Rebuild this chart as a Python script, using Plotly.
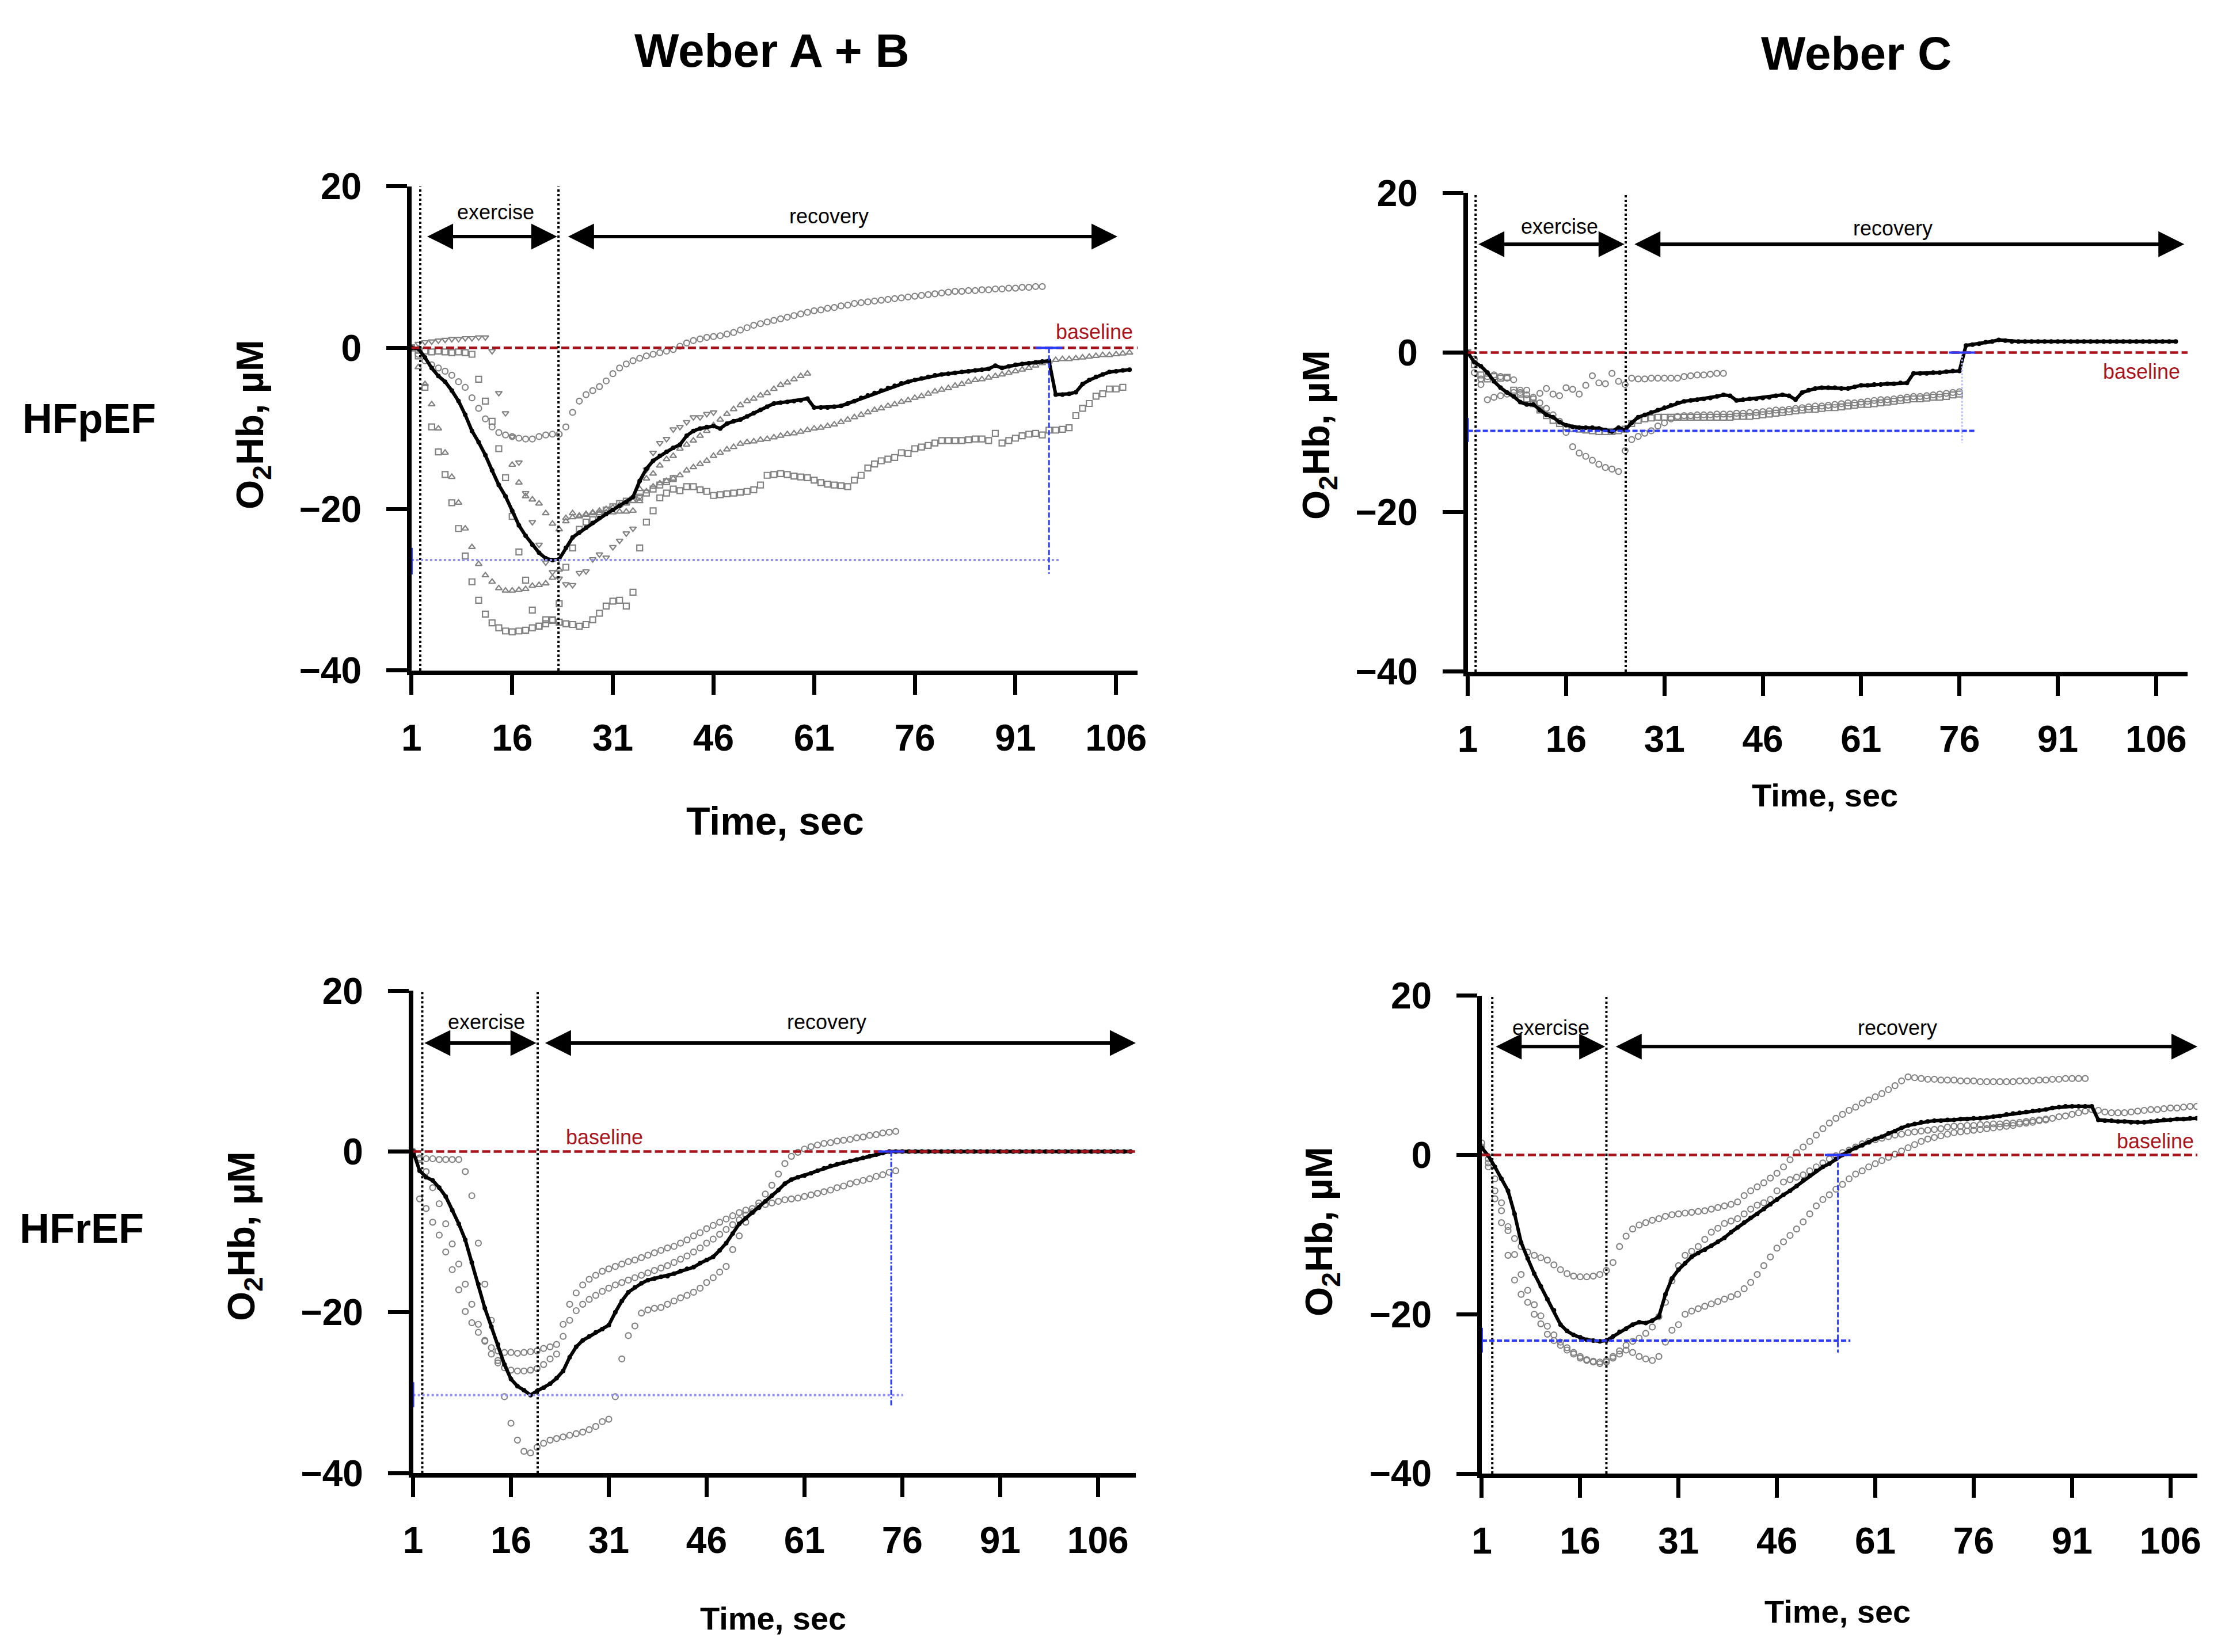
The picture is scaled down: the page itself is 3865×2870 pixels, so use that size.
import plotly.graph_objects as go

FONT = "Liberation Sans"
GRAY = "#828282"
RED = "#a8141c"
BLUE = "#2b3cff"
LIGHTBLUE = "#9090ff"
LAVENDER = "#b8b8ff"

x_ticks = [1, 16, 31, 46, 61, 76, 91, 106]
y_ticks = [-40, -20, 0, 20]

# ---------- HFpEF, Weber A + B ----------
tl_mean = [0, -0.1, -1.2, -2.5, -3.5, -4.2, -5.3, -6.6, -8.3, -10.3,
           -11.7, -13.3, -15.2, -17.0, -18.4, -20.2, -22.0, -23.3, -24.4, -25.4,
           -26.1, -26.3, -26.2, -24.8, -23.5, -22.9, -22.3, -21.7, -21.1, -20.6,
           -20.1, -19.6, -19.1, -18.5, -16.5, -15.0, -14.0, -13.4, -12.9, -12.4,
           -12.0, -10.9, -10.3, -10.0, -9.8, -9.7, -10.0, -9.4, -9.1, -8.9,
           -8.5, -8.1, -7.7, -7.3, -6.9, -6.8, -6.7, -6.6, -6.5, -6.3,
           -7.4, -7.4, -7.4, -7.3, -7.2, -6.9, -6.6, -6.2, -5.9, -5.6,
           -5.3, -5.0, -4.7, -4.4, -4.2, -4.0, -3.8, -3.6, -3.4, -3.3,
           -3.2, -3.1, -3.0, -2.9, -2.8, -2.7, -2.6, -2.2, -2.5, -2.3,
           -2.1, -2.0, -1.9, -1.8, -1.7, -1.6, -5.8, -5.8, -5.7, -5.5,
           -4.5, -4.0, -3.6, -3.3, -3.0, -2.9, -2.8, -2.7]
tl_circ = [0, -0.8, -1.6, -2.1, -2.5, -2.9, -3.4, -4.2, -4.9, -6.2,
           -7.5, -8.8, -9.8, -10.5, -10.8, -11.0, -11.2, -11.3, -11.3, -11.0,
           -10.8, -10.7, -10.7, -9.8, -8.0, -6.6, -5.8, -5.3, -4.8, -4.1,
           -3.2, -2.5, -2.0, -1.6, -1.3, -1.0, -0.8, -0.6, -0.4, -0.2,
           0.2, 0.6, 0.9, 1.1, 1.3, 1.4, 1.5, 1.7, 1.9, 2.2,
           2.5, 2.8, 3.0, 3.2, 3.4, 3.6, 3.8, 4.0, 4.2, 4.4,
           4.6, 4.7, 4.9, 5.0, 5.2, 5.3, 5.5, 5.6, 5.7, 5.8,
           5.9, 6.0, 6.1, 6.2, 6.3, 6.4, 6.5, 6.6, 6.7, 6.8,
           6.9, 7.0, 7.0, 7.1, 7.1, 7.2, 7.2, 7.3, 7.3, 7.4,
           7.4, 7.5, 7.5, 7.6, 7.6]
tl_sq_deep = [0, -1.0, -4.9, -9.8, -12.9, -15.7, -19.2, -22.4, -25.8, -29.0,
              -31.3, -33.0, -34.1, -34.7, -35.1, -35.2, -35.1, -35.0, -34.7, -34.5,
              -34.2, -33.8, -34.0, -34.2, -34.3, -34.5, -34.3, -33.7, -32.9, -32.0,
              -31.4, -31.3, -32.0, -30.3, -24.8, -21.6, -20.2, -18.6, -18.0, -17.5,
              -17.7, -17.2, -17.2, -17.6, -17.8, -18.3, -18.2, -18.1, -18.0, -17.9,
              -17.8, -17.6, -17.0, -15.8, -15.7, -15.6, -15.7, -15.9, -16.0, -16.1,
              -16.4, -16.7, -16.9, -17.0, -17.1, -17.2, -16.4, -15.8, -14.9, -14.4,
              -14.0, -13.8, -13.6, -13.0, -13.1, -12.5, -12.3, -12.1, -11.8, -11.5,
              -11.5, -11.5, -11.5, -11.4, -11.3, -11.3, -11.5, -10.6, -11.8, -11.5,
              -11.2, -10.9, -10.7, -10.6, -10.8, -10.2, -10.2, -10.1, -9.9, -8.4,
              -7.5, -6.9, -6.0, -5.7, -5.1, -5.1, -4.9]
tl_sq_late = [0, -0.3, -0.4, -0.5, -0.4, -0.5, -0.6, -0.5, -0.6, -0.8,
              -3.9, -6.6, -9.1, -12.5, -16.1, -20.9, -25.3, -28.8, -32.5, -34.5,
              -33.7, -33.7, -31.7, -27.2, -24.8, -22.5, -21.6, -21.3, -20.6, -20.1,
              -19.7, -19.3, -19.0, -18.8, -18.5, -18.0, -17.5, -17.0, -16.6, -16.2]
tl_tri_up = [0, -2.4, -4.5, -7.0, -10.0, -13.0, -16.0, -19.2, -22.4, -24.7,
             -26.8, -28.2, -29.0, -29.8, -30.1, -30.1, -30.0, -29.9, -29.5, -29.4,
             -29.2, -28.5, -27.5, -21.1, -20.5, -20.8, -20.6, -20.5, -20.5, -20.4,
             -20.4, -20.3, -20.3, -20.2, -19.0, -17.8, -17.2, -16.8, -16.5, -16.2,
             -15.8, -15.2, -14.8, -14.4, -14.0, -13.4, -13.0, -12.6, -12.3, -11.9,
             -11.7, -11.6, -11.4, -11.3, -11.1, -10.9, -10.7, -10.6, -10.4, -10.2,
             -10.0, -9.9, -9.7, -9.5, -9.2, -8.9, -8.6, -8.3, -8.0, -7.7,
             -7.5, -7.2, -7.0, -6.7, -6.5, -6.2, -6.0, -5.7, -5.4, -5.2,
             -5.0, -4.7, -4.5, -4.2, -4.0, -3.9, -3.7, -3.5, -3.3, -3.1,
             -2.9, -2.7, -2.5, -2.2, -1.9, -1.7, -1.5, -1.4, -1.4, -1.3,
             -1.2, -1.1, -1.0, -0.9, -0.9, -0.8, -0.7, -0.6]
tl_tri_down = [0, 0.5, 0.7, 0.8, 0.9, 1.0, 1.1, 1.1, 1.2, 1.2,
               1.3, 1.3, -0.4, -5.6, -8.1, -11.0, -14.2, -18.0, -21.6, -24.4,
               -26.6, -27.8, -28.6, -29.3, -29.4, -27.9, -27.7, -26.2, -25.6, -26.0,
               -24.7, -23.9, -23.0, -22.4, -18.5, -15.1, -13.0, -11.8, -11.3, -10.1,
               -9.8, -9.2, -8.6, -8.6, -8.2, -8.0]
tl_tri_up2_start = 16
tl_tri_up2 = [-14.5, -16.7, -18.4, -18.8, -19.3, -20.5, -21.8, -22.5, -21.5, -21.0,
              -20.9, -20.7, -20.4, -20.2, -20.0, -19.8, -19.5, -19.3, -19.0, -17.5,
              -16.2, -15.6, -14.6, -13.8, -13.4, -12.5, -12.0, -11.5, -10.9, -10.3,
              -9.6, -8.9, -8.2, -7.6, -7.1, -6.6, -6.3, -5.9, -5.6, -5.1,
              -4.6, -4.3, -3.9, -3.5, -3.2]

# ---------- HFpEF, Weber C ----------
tr_mean = [0, -1.2, -1.7, -2.5, -3.6, -4.4, -5.0, -5.5, -6.2, -6.5,
           -6.5, -7.2, -7.8, -8.1, -8.7, -9.1, -9.3, -9.4, -9.4, -9.4,
           -9.5, -9.7, -9.9, -9.4, -9.7, -8.8, -8.1, -7.8, -7.5, -7.2,
           -6.9, -6.6, -6.3, -6.1, -6.0, -5.9, -5.8, -5.7, -5.5, -5.3,
           -5.4, -6.0, -5.9, -5.8, -5.8, -5.7, -5.6, -5.4, -5.3, -5.4,
           -5.9, -5.0, -4.7, -4.5, -4.4, -4.4, -4.4, -4.5, -4.5, -4.3,
           -4.1, -4.1, -4.0, -4.0, -3.9, -3.9, -3.8, -3.8, -2.6, -2.6,
           -2.6, -2.5, -2.5, -2.4, -2.3, -2.3, 0.9, 1.0, 1.1, 1.3,
           1.4, 1.6, 1.5, 1.4, 1.4, 1.4, 1.4, 1.4, 1.4, 1.4,
           1.4, 1.4, 1.4, 1.4, 1.4, 1.4, 1.4, 1.4, 1.4, 1.4,
           1.4, 1.4, 1.4, 1.4, 1.4, 1.4, 1.4, 1.4, 1.4]
tr_circ_up = [0, -0.8, -3.3, -3.0, -2.8, -3.0, -3.2, -3.4, -4.7, -4.7,
              -5.6, -5.1, -4.5, -5.2, -5.4, -4.4, -4.6, -5.2, -4.1, -2.9,
              -3.8, -3.9, -2.6, -3.6, -4.0, -3.2, -3.3, -3.3, -3.2, -3.2,
              -3.2, -3.2, -3.2, -3.0, -2.9, -2.8, -2.8, -2.7, -2.6, -2.6]
tr_circ_low = [0, -2.5, -4.0, -5.9, -5.6, -5.4, -5.2, -5.0, -5.0, -5.3,
               -5.8, -6.3, -7.0, -7.8, -8.6, -10.0, -11.8, -12.6, -13.0, -13.5,
               -14.0, -14.4, -14.6, -14.9, -12.3, -10.9, -10.5, -10.1, -9.8, -9.2,
               -8.8, -8.3, -8.0, -7.9, -7.9, -7.8, -7.8, -7.8, -7.7, -7.7,
               -7.7, -7.6, -7.6, -7.5, -7.5, -7.4, -7.3, -7.2, -7.2, -7.1,
               -7.0, -6.9, -6.8, -6.7, -6.7, -6.6, -6.5, -6.4, -6.3, -6.3,
               -6.2, -6.1, -6.0, -5.9, -5.9, -5.8, -5.7, -5.6, -5.5, -5.5,
               -5.4, -5.3, -5.2, -5.1, -5.0, -4.9]
tr_sq = [0, -1.5, -2.8, -3.3, -3.0, -3.2, -3.1, -4.7, -5.2, -5.8,
         -6.4, -7.2, -7.9, -8.5, -8.9, -9.3, -9.5, -9.6, -9.7, -9.8,
         -9.9, -9.9, -9.9, -9.8, -9.6, -8.9, -8.5, -8.3, -8.2, -8.1,
         -8.1, -8.1, -8.1, -8.1, -8.1, -8.1, -8.1, -8.1, -8.1, -8.1,
         -8.1, -8.0, -8.0, -8.0, -7.9, -7.8, -7.7, -7.6, -7.5, -7.4,
         -7.3, -7.2, -7.1, -7.1, -7.0, -6.9, -6.9, -6.8, -6.7, -6.6,
         -6.5, -6.5, -6.4, -6.3, -6.2, -6.1, -6.0, -5.9, -5.8, -5.8,
         -5.7, -5.6, -5.6, -5.5, -5.3, -5.2]

# ---------- HFrEF, Weber A + B ----------
bl_mean = [0, -2.4, -3.2, -3.6, -4.5, -5.6, -7.3, -9.0, -11.0, -13.8,
           -16.5, -19.5, -21.8, -24.0, -26.5, -28.3, -29.2, -29.7, -30.3, -29.8,
           -29.4, -28.9, -28.2, -27.3, -25.6, -24.3, -23.5, -23.0, -22.5, -22.1,
           -21.6, -20.0, -18.6, -17.5, -16.9, -16.4, -16.0, -15.8, -15.6, -15.5,
           -15.2, -14.9, -14.6, -14.4, -13.9, -13.5, -13.1, -12.3, -11.4, -10.2,
           -9.0, -8.3, -7.6, -7.0, -6.2, -5.5, -4.8, -4.0, -3.5, -3.2,
           -3.0, -2.7, -2.4, -2.1, -1.8, -1.6, -1.4, -1.2, -1.0, -0.8,
           -0.6, -0.4, -0.2, 0.0, 0.0, 0.0, 0.0, 0.0, 0.0, 0.0,
           0.0, 0.0, 0.0, 0.0, 0.0, 0.0, 0.0, 0.0, 0.0, 0.0,
           0.0, 0.0, 0.0, 0.0, 0.0, 0.0, 0.0, 0.0, 0.0, 0.0,
           0.0, 0.0, 0.0, 0.0, 0.0, 0.0, 0.0, 0.0, 0.0, 0.0,
           0.0]
bl_c1 = [0, -5.9, -7.1, -8.8, -10.4, -12.5, -14.7, -17.2, -19.9, -21.3,
         -22.5, -23.6, -24.4, -24.8, -25.0, -25.0, -25.1, -25.0, -24.9, -24.8,
         -24.5, -24.3, -24.0, -21.5, -19.0, -17.6, -16.6, -15.9, -15.4, -14.9,
         -14.6, -14.3, -14.0, -13.7, -13.5, -13.2, -12.9, -12.6, -12.3, -12.0,
         -11.8, -11.4, -11.0, -10.5, -10.1, -9.6, -9.2, -8.8, -8.4, -8.0,
         -7.6, -7.3, -7.1, -6.8, -6.6, -6.4, -6.2, -6.0, -5.9, -5.8,
         -5.6, -5.4, -5.2, -5.0, -4.8, -4.5, -4.3, -4.0, -3.8, -3.6,
         -3.4, -3.1, -2.9, -2.6, -2.4]
bl_c2 = [0, -1.0, -2.5, -4.5, -6.5, -9.0, -11.5, -14.0, -16.5, -19.0,
         -21.5, -23.5, -25.2, -26.3, -26.9, -27.2, -27.3, -27.3, -27.2, -27.0,
         -26.5, -25.8, -25.2, -23.0, -21.0, -19.8, -19.0, -18.4, -17.9, -17.4,
         -17.0, -16.6, -16.3, -16.0, -15.7, -15.4, -15.1, -14.8, -14.5, -14.2,
         -13.8, -13.4, -13.0, -12.5, -12.0, -11.4, -10.9, -10.3, -9.7, -9.1,
         -8.5, -7.9]
bl_c3 = [0, -0.8, -0.9, -0.9, -1.0, -1.0, -1.0, -1.0, -2.5, -5.5,
         -11.4, -16.5, -21.0, -26.0, -30.5, -33.8, -35.9, -37.3, -37.5, -36.8,
         -36.3, -35.9, -35.7, -35.5, -35.3, -35.1, -34.9, -34.6, -34.2, -33.6,
         -33.3, -30.5, -25.8, -22.9, -21.7, -20.1, -19.7, -19.5, -19.4, -19.0,
         -18.6, -18.2, -17.9, -17.5, -17.0, -16.3, -15.7, -15.0, -14.3, -12.2,
         -10.5, -8.8, -7.5, -6.4, -5.3, -4.2, -2.8, -1.5, -0.6, -0.1,
         0.3, 0.6, 0.8, 1.0, 1.1, 1.3, 1.4, 1.5, 1.7, 1.8,
         2.0, 2.1, 2.3, 2.4, 2.5]

# ---------- HFrEF, Weber C ----------
br_mean = [0.9, -0.1, -1.5, -3.0, -4.5, -7.4, -11.0, -13.0, -14.9, -16.5,
           -18.1, -19.5, -21.3, -22.1, -22.6, -22.9, -23.2, -23.3, -23.4, -23.3,
           -22.8, -22.2, -21.8, -21.3, -21.0, -21.1, -20.8, -20.3, -17.5, -15.5,
           -14.4, -13.6, -12.8, -12.3, -11.9, -11.4, -10.9, -10.4, -9.7, -9.1,
           -8.5, -7.9, -7.4, -6.8, -6.2, -5.6, -5.0, -4.5, -3.9, -3.2,
           -2.6, -2.0, -1.5, -1.1, -0.5, 0.0, 0.5, 0.9, 1.2, 1.6,
           2.0, 2.3, 2.7, 3.0, 3.4, 3.7, 3.9, 4.1, 4.2, 4.3,
           4.3, 4.4, 4.4, 4.5, 4.5, 4.6, 4.6, 4.7, 4.8, 4.9,
           5.1, 5.2, 5.3, 5.4, 5.5, 5.6, 5.7, 5.9, 6.0, 6.1,
           6.1, 6.1, 6.1, 6.1, 4.4, 4.3, 4.3, 4.2, 4.2, 4.1,
           4.1, 4.1, 4.2, 4.3, 4.4, 4.4, 4.5, 4.5, 4.6, 4.6]
br_c1 = [0.5, -1.5, -4.5, -7.0, -9.0, -10.5, -11.5, -12.2, -12.6, -12.9,
         -13.2, -13.8, -14.4, -14.9, -15.2, -15.3, -15.3, -15.2, -15.0, -14.5,
         -13.5, -11.5, -10.2, -9.3, -8.8, -8.5, -8.2, -8.0, -7.7, -7.5,
         -7.4, -7.3, -7.2, -7.1, -7.0, -6.8, -6.6, -6.4, -6.2, -5.9,
         -5.1, -4.5, -4.0, -3.5, -2.9, -2.3, -1.5, -0.6, 0.3, 1.0,
         1.7, 2.5, 3.3, 4.0, 4.6, 5.1, 5.6, 6.0, 6.5, 6.9,
         7.3, 7.7, 8.2, 8.7, 9.3, 9.8, 9.7, 9.6, 9.5, 9.5,
         9.4, 9.4, 9.4, 9.3, 9.3, 9.3, 9.2, 9.2, 9.2, 9.2,
         9.2, 9.2, 9.3, 9.3, 9.3, 9.4, 9.4, 9.5, 9.5, 9.6,
         9.6, 9.6, 9.6]
br_c2 = [1.0, -0.5, -3.0, -6.0, -9.5, -12.5, -15.0, -17.0, -18.8, -20.2,
         -21.5, -22.6, -23.5, -24.2, -24.8, -25.3, -25.7, -25.9, -26.0, -25.8,
         -25.3, -24.6, -23.9, -23.4, -23.0, -22.4, -21.6, -20.3, -18.5, -15.8,
         -13.9, -12.6, -12.1, -11.5, -10.6, -9.7, -9.2, -8.6, -8.3, -8.0,
         -7.4, -6.8, -6.3, -6.0, -5.6, -4.5, -3.4, -3.1, -2.8, -2.5,
         -2.0, -1.5, -1.0, -0.5, -0.1, 0.3, 0.6, 1.0, 1.4, 1.7,
         1.9, 2.1, 2.3, 2.5, 2.6, 2.8, 2.9, 3.0, 3.1, 3.2,
         3.3, 3.5, 3.6, 3.6, 3.7, 3.7, 3.8, 3.8, 3.9, 3.9,
         4.0, 4.0, 4.1, 4.2, 4.3, 4.4, 4.5, 4.6, 4.8, 4.9,
         5.1, 5.3, 5.5, 5.7, 5.6, 5.4, 5.3, 5.3, 5.3, 5.4,
         5.5, 5.6, 5.7, 5.7, 5.8, 5.9, 5.9, 6.0, 6.1, 6.1]
br_c3 = [1.5, -1.0, -5.5, -8.5, -12.6, -15.7, -17.5, -18.5, -20.0, -21.2,
         -22.5, -23.3, -23.9, -24.5, -25.0, -25.5, -25.8, -26.0, -26.2, -26.0,
         -25.5, -25.0, -24.5, -24.8, -25.3, -25.6, -25.8, -25.3, -23.5, -22.0,
         -21.3, -20.0, -19.6, -19.3, -19.0, -18.7, -18.4, -18.1, -17.8, -17.5,
         -16.8, -16.0, -15.0, -13.9, -12.8, -11.7, -10.9, -10.1, -9.3, -8.4,
         -7.4, -6.4, -5.6, -5.0, -4.3, -3.7, -3.0, -2.4, -2.0, -1.5,
         -1.1, -0.7, -0.3, 0.1, 0.5, 0.9, 1.3, 1.7, 2.0, 2.2,
         2.4, 2.6, 2.8, 2.9, 3.0, 3.1, 3.2, 3.3, 3.4, 3.5,
         3.6, 3.7, 3.9, 4.0, 4.1, 4.3, 4.4]

# exercise window (start, end) and recovery marks (min value, time back to baseline)
tl_exercise = [2.3, 22.9]
tr_exercise = [2.2, 25.1]
bl_exercise = [2.4, 20.1]
br_exercise = [2.6, 20.0]
tl_marks = [-26.3, 96.0]
tr_marks = [-9.8, 76.4]
bl_marks = [-30.3, 74.3]
br_marks = [-23.3, 55.3]

panels = [
    dict(ax="", dom_x=[0.1829, 0.5092], dom_y=[0.5969, 0.8899], xmax=109.2,
         mean=tl_mean, exercise=tl_exercise, marks=tl_marks,
         gray=[(tl_sq_deep, 1, "square-open"), (tl_sq_late, 1, "square-open"),
               (tl_tri_up, 1, "triangle-up-open"), (tl_tri_up2, tl_tri_up2_start, "triangle-up-open"),
               (tl_tri_down, 1, "triangle-down-open"), (tl_circ, 1, "circle-open")],
         arrows=[3.2, 22.7, 24.2, 106.2, 13.8], labels=[13.5, 16.8, 63.2, 16.3],
         base_lbl=[102.8, 2.0], hstyle=("dot", LIGHTBLUE), vstyle=("9px,4px", BLUE),
         hend=97.5, vbot=-28.0, ytick=[-24.8, -28.1]),
    dict(ax="2", dom_x=[0.6576, 0.9811], dom_y=[0.5962, 0.8859], xmax=110.8,
         mean=tr_mean, exercise=tr_exercise, marks=tr_marks,
         gray=[(tr_sq, 1, "square-open"), (tr_circ_low, 1, "circle-open"),
               (tr_circ_up, 1, "circle-open")],
         arrows=[2.5, 24.9, 26.3, 110.3, 13.6], labels=[15.0, 15.8, 65.8, 15.6],
         base_lbl=[103.8, -2.4], hstyle=("9px,4px", BLUE), vstyle=("dot", LAVENDER),
         hend=78.4, vbot=-11.3, ytick=[-8.2, -11.2]),
    dict(ax="3", dom_x=[0.1836, 0.5084], dom_y=[0.1111, 0.4031], xmax=111.8,
         mean=bl_mean, exercise=bl_exercise, marks=bl_marks,
         gray=[(bl_c1, 1, "circle-open"), (bl_c2, 1, "circle-open"),
               (bl_c3, 1, "circle-open")],
         arrows=[2.6, 19.9, 21.1, 111.8, 13.5], labels=[12.2, 16.1, 64.4, 16.1],
         base_lbl=[30.3, 1.8], hstyle=("dot", LIGHTBLUE), vstyle=("dashdot", BLUE),
         hend=76.1, vbot=-31.8, ytick=[-28.7, -31.8]),
    dict(ax="4", dom_x=[0.6639, 0.9855], dom_y=[0.1108, 0.4001], xmax=110.1,
         mean=br_mean, exercise=br_exercise, marks=br_marks,
         gray=[(br_c1, 1, "circle-open"), (br_c2, 1, "circle-open"),
               (br_c3, 1, "circle-open")],
         arrows=[3.0, 19.8, 21.3, 110.1, 13.6], labels=[11.5, 16.0, 64.4, 16.0],
         base_lbl=[103.7, 1.7], hstyle=("9px,4px", BLUE), vstyle=("9px,4px", BLUE),
         hend=57.2, vbot=-24.8, ytick=[-21.7, -24.8]),
]

fig = go.Figure()
shapes = []
annotations = []
layout_axes = {}

for p in panels:
    xa, ya = "x" + p["ax"], "y" + p["ax"]
    for vals, start, sym in p["gray"]:
        fig.add_trace(go.Scatter(
            x=list(range(start, start + len(vals))), y=vals, xaxis=xa, yaxis=ya,
            mode="markers",
            marker=dict(symbol=sym, size=10, color=GRAY, line=dict(width=2.2, color=GRAY)),
            hoverinfo="skip"))
    fig.add_trace(go.Scatter(
        x=list(range(1, 1 + len(p["mean"]))), y=p["mean"], xaxis=xa, yaxis=ya,
        mode="lines+markers", line=dict(color="black", width=6),
        marker=dict(symbol="circle", size=8, color="black")))

    layout_axes["xaxis" + p["ax"]] = dict(
        domain=p["dom_x"], anchor=ya, range=[1, p["xmax"]], automargin=False,
        tickvals=x_ticks, ticks="outside", ticklen=34, tickwidth=7, tickcolor="black",
        showline=True, linewidth=8, linecolor="black", showgrid=False, zeroline=False,
        ticklabelstandoff=20, tickfont=dict(family=FONT, size=64, color="black", weight="bold"))
    layout_axes["yaxis" + p["ax"]] = dict(
        domain=p["dom_y"], anchor=xa, range=[-40, 20], automargin=False,
        tickvals=y_ticks, ticks="outside", ticklen=36, tickwidth=7, tickcolor="black",
        showline=True, linewidth=8, linecolor="black", showgrid=False, zeroline=False,
        ticklabelstandoff=30, tickfont=dict(family=FONT, size=64, color="black", weight="bold"))

    # baseline
    shapes.append(dict(type="line", xref=xa, yref=ya, x0=1, x1=p["xmax"], y0=0, y1=0,
                       line=dict(color=RED, width=4.5, dash="14px,6px")))
    # exercise window
    for t in p["exercise"]:
        shapes.append(dict(type="line", xref=xa, yref=ya, x0=t, x1=t, y0=-40, y1=20.6,
                           line=dict(color="black", width=4, dash="dot")))
    # recovery marks
    ymin, trec = p["marks"]
    shapes.append(dict(type="line", xref=xa, yref=ya, x0=1, x1=p["hend"], y0=ymin, y1=ymin,
                       line=dict(color=p["hstyle"][1], width=4, dash=p["hstyle"][0])))
    shapes.append(dict(type="line", xref=xa, yref=ya, x0=trec, x1=trec, y0=0, y1=p["vbot"],
                       line=dict(color=p["vstyle"][1], width=3, dash=p["vstyle"][0])))
    shapes.append(dict(type="line", xref=xa, yref=ya, x0=trec - 2, x1=trec + 2, y0=0, y1=0,
                       line=dict(color=BLUE, width=4)))
    shapes.append(dict(type="line", xref=xa, yref=ya, x0=1, x1=1,
                       y0=p["ytick"][0], y1=p["ytick"][1], line=dict(color=BLUE, width=4)))

    # arrows
    a0, a1, r0, r1, ay = p["arrows"]
    for s, e in [(a0, a1), (r0, r1)]:
        annotations.append(dict(
            x=e, y=ay, ax=s, ay=ay, xref=xa, yref=ya, axref=xa, ayref=ya, text="",
            showarrow=True, arrowhead=2, startarrowhead=2, arrowside="end+start",
            arrowsize=1.5, startarrowsize=1.5, arrowwidth=6, arrowcolor="black"))
    ex_t, ex_y, rc_t, rc_y = p["labels"]
    annotations.append(dict(x=ex_t, y=ex_y, xref=xa, yref=ya, text="exercise", showarrow=False,
                            font=dict(family=FONT, size=36, color="black")))
    annotations.append(dict(x=rc_t, y=rc_y, xref=xa, yref=ya, text="recovery", showarrow=False,
                            font=dict(family=FONT, size=36, color="black")))
    annotations.append(dict(x=p["base_lbl"][0], y=p["base_lbl"][1], xref=xa, yref=ya,
                            text="baseline", showarrow=False,
                            font=dict(family=FONT, size=36, color=RED)))

# titles, row labels and axis titles (pixel positions on the 3865 x 2870 page)
W, H = 3865, 2870
big = [("Weber A + B", 1333, 80, 82, 0), ("Weber C", 3216, 84, 82, 0),
       ("HFpEF", 147, 719, 72, 0), ("HFrEF", 134, 2126, 72, 0),
       ("Time, sec", 1338, 1418, 68, 0), ("Time, sec", 3162, 1373, 56, 0),
       ("Time, sec", 1335, 2803, 56, 0), ("Time, sec", 3184, 2791, 56, 0),
       ("O<sub>2</sub>Hb, µM", 431, 730, 66, -90),
       ("O<sub>2</sub>Hb, µM", 2283, 748, 66, -90),
       ("O<sub>2</sub>Hb, µM", 416, 2140, 66, -90),
       ("O<sub>2</sub>Hb, µM", 2288, 2132, 66, -90)]
for txt, px, py, size, ang in big:
    annotations.append(dict(x=px / W, y=1 - py / H, xref="paper", yref="paper", text=txt,
                            showarrow=False, textangle=ang, xanchor="center", yanchor="middle",
                            font=dict(family=FONT, size=size, color="black", weight="bold")))

fig.update_layout(
    width=W, height=H, margin=dict(l=0, r=0, t=0, b=0, autoexpand=False),
    paper_bgcolor="white", plot_bgcolor="white", showlegend=False,
    shapes=shapes, annotations=annotations, **layout_axes)

fig.write_html("out.html")
